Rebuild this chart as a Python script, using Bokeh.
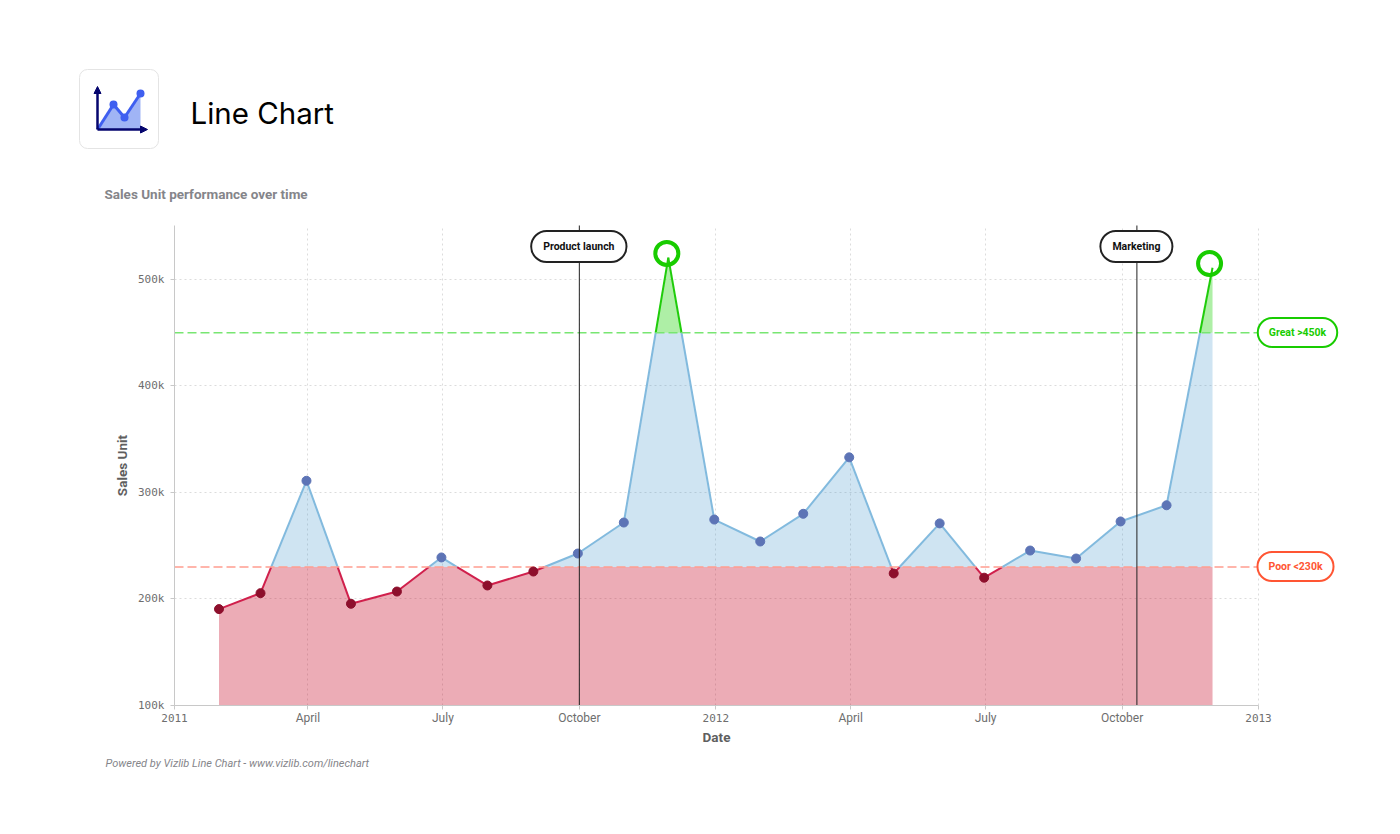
from bokeh.plotting import figure
from bokeh.embed import file_html
from bokeh.resources import INLINE
from bokeh.models import (Range1d, FixedTicker, Label, BoxAnnotation,
                          PolyAnnotation, Arrow, NormalHead)
import numpy as np
import pandas as pd

months = ["2011-01-31","2011-02-28","2011-03-31","2011-04-30","2011-05-31","2011-06-30","2011-07-31",
          "2011-08-31","2011-09-30","2011-10-31","2011-11-30","2011-12-31","2012-01-31","2012-02-29",
          "2012-03-31","2012-04-30","2012-05-31","2012-06-30","2012-07-31","2012-08-31","2012-09-30",
          "2012-10-31","2012-12-01"]
sales = [190500,205500,311000,195500,207000,239000,212700,225800,242700,271800,520600,274600,254000,
         280000,333000,224000,271000,220000,245500,238000,272800,288000,511000]
x_tick_dates = ["2011-04-01","2011-07-01","2011-10-01","2012-04-01","2012-07-01","2012-10-01"]
x_tick_labels = ["April","July","October","April","July","October"]
year_dates = ["2011-01-01","2012-01-01","2013-01-01"]
year_labels = ["2011","2012","2013"]
y_ticks = [100000,200000,300000,400000,500000]
y_tick_labels = ["100k","200k","300k","400k","500k"]
great_level, poor_level = 450000, 230000
events = [("2011-10-01","Product launch"),("2012-10-11","Marketing")]
peak_dates = ["2011-11-29","2012-11-29"]
peak_marks = [524500,515000]

def ms(d):
    return pd.Timestamp(d).value / 1e6
def msl(ds):
    return [ms(d) for d in ds]

X0, X1 = ms("2011-01-01"), ms("2013-01-01")
Y0, Y1 = 100000, 550700
# where the plot area sits on the page, in pixels
FL, FR, FT, FB = 174, 1258, 225, 705
CW, CH = 1392, 826
KX = (X1-X0)/(FR-FL); KY = (Y1-Y0)/(FB-FT)
# page pixel -> annotation screen unit
def sx(x): return x
def sy(y): return CH-y
def dx_px(d): return FL + (ms(d)-X0)/(X1-X0)*(FR-FL)

# the frame fills the canvas so header, pills and footer are not clipped; axes are pinned inside
p = figure(width=CW, height=CH, output_backend="svg", toolbar_location=None,
           x_range=Range1d(X0-FL*KX, X1+(CW-FR)*KX), y_range=Range1d(Y0-(CH-FB)*KY, Y1+FT*KY),
           min_border=0, outline_line_color=None, background_fill_color="white", border_fill_color="white")

xa, ya = p.xaxis[0], p.yaxis[0]
xticks = msl(x_tick_dates) + msl(year_dates)
xa.ticker = FixedTicker(ticks=xticks)
xa.major_label_overrides = {**{ms(d):l for d,l in zip(x_tick_dates,x_tick_labels)}, **{ms(d):" " for d in year_dates}}
ya.ticker = FixedTicker(ticks=y_ticks)
ya.major_label_overrides = dict(zip(y_ticks,y_tick_labels))
xa.fixed_location = Y0; ya.fixed_location = X0
xa.bounds = (X0,X1); ya.bounds = (Y0,Y1)
for a in (xa,ya):
    a.axis_line_color="#c8c8c8"; a.major_tick_line_color="#c8c8c8"; a.minor_tick_line_color=None
    a.major_tick_out=4; a.major_tick_in=0
    a.major_label_text_color="#6e6e6e"
    a.axis_label_text_color="#5f5f5f"; a.axis_label_text_font="Roboto"
    a.axis_label_text_font_style="bold"; a.axis_label_text_font_size="13.5px"
xa.major_label_text_font="Roboto"; xa.major_label_text_font_size="12px"
ya.major_label_text_font="DejaVu Sans Mono"; ya.major_label_text_font_size="11px"
xa.major_label_standoff=1; ya.major_label_standoff=6
xa.axis_label="Date"; ya.axis_label="Sales Unit"
xa.axis_label_standoff=1; ya.axis_label_standoff=5
for g in (p.xgrid[0],p.ygrid[0]):
    g.grid_line_color="#dcdcdc"; g.grid_line_dash="2 3"; g.grid_line_width=1
p.xgrid[0].ticker=FixedTicker(ticks=xticks); p.ygrid[0].ticker=FixedTicker(ticks=y_ticks)
p.xgrid[0].bounds=(X0,X1); p.ygrid[0].bounds=(Y0,Y1)
p.xgrid[0].cross_bounds=(Y0,Y1); p.ygrid[0].cross_bounds=(X0,X1)

# insert threshold crossings so bands and line colours split exactly
xs = msl(months); vals=[float(v) for v in sales]
dx=[xs[0]]; dv=[vals[0]]
for i in range(len(xs)-1):
    a,b=vals[i],vals[i+1]
    cr=[]
    for lv in (poor_level,great_level):
        if (a-lv)*(b-lv)<0:
            cr.append(xs[i]+(lv-a)/(b-a)*(xs[i+1]-xs[i]))
    cr.sort()
    for c in cr:
        dx.append(c); dv.append(a+(c-xs[i])/(xs[i+1]-xs[i])*(b-a))
    dx.append(xs[i+1]); dv.append(b)
dx=np.array(dx); dv=np.array(dv)

p.varea(dx, y1=np.full_like(dv,poor_level), y2=np.clip(dv,poor_level,great_level), fill_color="#4f9bd0", fill_alpha=0.27)
p.varea(dx, y1=np.full_like(dv,Y0), y2=np.minimum(dv,poor_level), fill_color="#c8102e", fill_alpha=0.35)
p.varea(dx, y1=np.full_like(dv,great_level), y2=np.maximum(dv,great_level), fill_color="#2bd414", fill_alpha=0.38)

mid=(dv[:-1]+dv[1:])/2
cols=["#d0204c" if m<poor_level else ("#1fcc0a" if m>great_level else "#82bade") for m in mid]
p.segment(dx[:-1],dv[:-1],dx[1:],dv[1:],line_color=cols,line_width=2)

p.line([X0,X1],[great_level,great_level],line_color="#78e672",line_dash="9 4",line_width=1.5)
p.line([X0,X1],[poor_level,poor_level],line_color="#ff9d90",line_dash="9 4",line_width=1.5)

# markers
mx=[x for x,v in zip(xs,vals) if v<great_level]; mv=[v for v in vals if v<great_level]
mc=["#8d0f2c" if v<poor_level else "#5d74b6" for v in mv]
p.scatter(mx,mv,size=9,fill_color=mc,line_color=mc)
p.scatter(msl(peak_dates),peak_marks,size=23,fill_color=None,line_color="#18cc00",line_width=4)

# events
for d,t in events:
    p.line([ms(d),ms(d)],[Y0,Y1],line_color="#222222",line_width=1)

def lab(x,y,t,size,col,font="Roboto",style="normal",align="left",**kw):
    p.add_layout(Label(x=sx(x),y=sy(y),x_units="screen",y_units="screen",text=t,text_font=font,text_font_size=size,
                       text_color=col,text_font_style=style,text_align=align,text_baseline="middle",**kw))
def pill(x,y,text,col,pad,radius,tcol=None):
    lab(x,y,text,"10.5px",tcol or col,style="bold",align="center",background_fill_color="white",
        border_line_color=col,border_line_width=2,border_radius=radius,padding=pad)
for (d,t) in events:
    pill(dx_px(d)-0.5,246,t,"#222222",(12,9),16,"#111111")
pill(1297,332,"Great >450k","#18cc00",(11,8),15)
pill(1295,566,"Poor <230k","#ff5533",(11,8),15)

for d,l in zip(year_dates,year_labels):
    lab(dx_px(d),717,l,"11px","#6e6e6e","DejaVu Sans Mono",align="center")

lab(190,112,"Line Chart","29.5px","#000000","Inter")
lab(104,193.5,"Sales Unit performance over time","13.5px","#85858a","Roboto","bold")
lab(105,763,"Powered by Vizlib Line Chart - www.vizlib.com/linechart","11px","#85858a","Roboto","italic")

# icon
p.add_layout(BoxAnnotation(left=sx(79),right=sx(158),top=sy(69),bottom=sy(148),left_units="screen",right_units="screen",
                           top_units="screen",bottom_units="screen",fill_color="white",fill_alpha=1,
                           line_color="#e4e4e4",line_alpha=1,line_width=1,border_radius=8))
p.add_layout(PolyAnnotation(xs=[sx(x) for x in (97,113,124,140,140,97)],ys=[sy(y) for y in (129,104,117,93,129,129)],
                            xs_units="screen",ys_units="screen",fill_color="#a0b4f5",fill_alpha=1,line_alpha=0))
def seg(a,b,c,d,col,w,end=None):
    p.add_layout(Arrow(end=end,x_start=sx(a),y_start=sy(b),x_end=sx(c),y_end=sy(d),start_units="screen",end_units="screen",
                       line_color=col,line_width=w))
for a,b,c,d in ((97,129,113,104),(113,104,124,117),(124,117,140,93)):
    seg(a,b,c,d,"#3f5ff0",3)
for a,b,c,d in ((97,129,97,86),(97,129,147,129)):
    seg(a,b,c,d,"#05056e",2.5,NormalHead(size=7,fill_color="#05056e",line_color="#05056e"))
for a,b,r in ((113,104,4),(124,117,4),(140,93,4)):
    p.add_layout(BoxAnnotation(left=sx(a-r),right=sx(a+r),top=sy(b-r),bottom=sy(b+r),left_units="screen",right_units="screen",
                               top_units="screen",bottom_units="screen",fill_color="#3f5ff0",fill_alpha=1,
                               line_alpha=0,border_radius=r))

open("out.html","w").write(file_html(p,INLINE))
